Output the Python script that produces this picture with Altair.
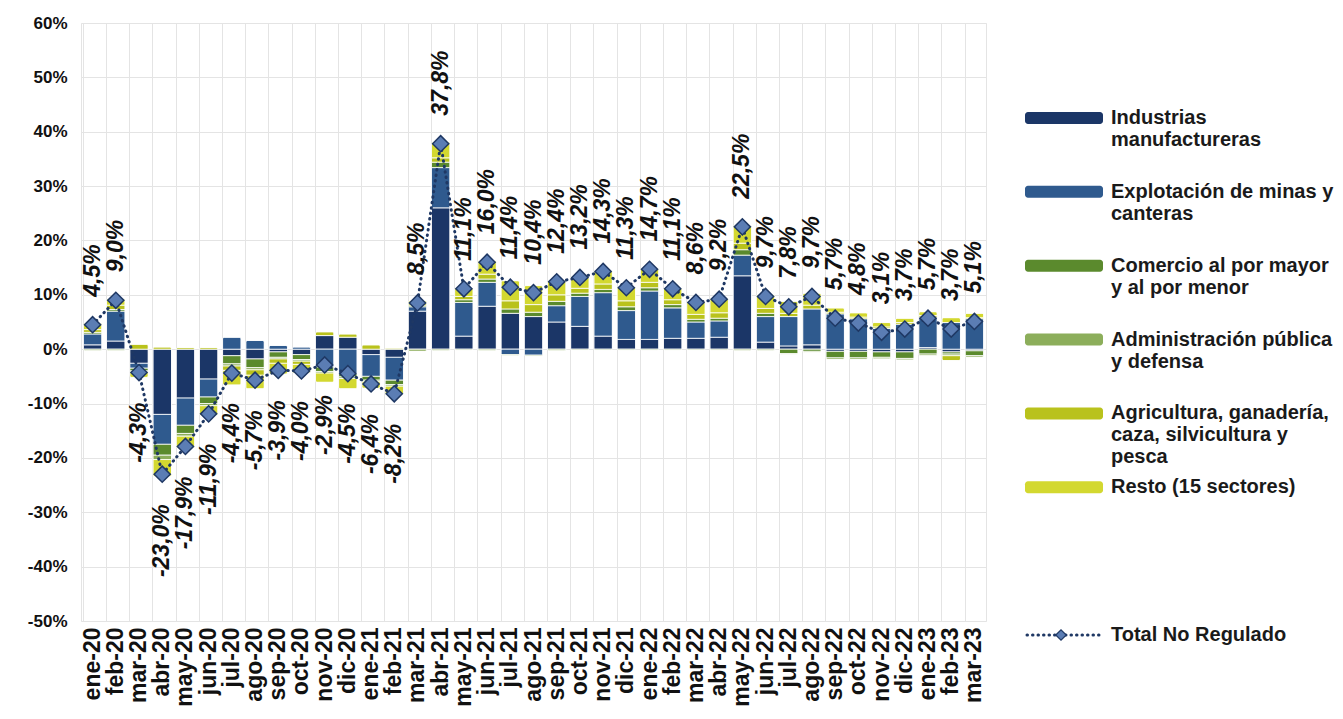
import altair as alt
import pandas as pd

# Months on the horizontal axis
months = [
    "ene-20", "feb-20", "mar-20", "abr-20", "may-20", "jun-20", "jul-20", "ago-20",
    "sep-20", "oct-20", "nov-20", "dic-20", "ene-21", "feb-21", "mar-21", "abr-21",
    "may-21", "jun-21", "jul-21", "ago-21", "sep-21", "oct-21", "nov-21", "dic-21",
    "ene-22", "feb-22", "mar-22", "abr-22", "may-22", "jun-22", "jul-22", "ago-22",
    "sep-22", "oct-22", "nov-22", "dic-22", "ene-23", "feb-23", "mar-23",
]

# Total No Regulado (%)
total = [
    4.5, 9.0, -4.3, -23.0, -17.9, -11.9, -4.4, -5.7, -3.9, -4.0, -2.9, -4.5, -6.4,
    -8.2, 8.5, 37.8, 11.1, 16.0, 11.4, 10.4, 12.4, 13.2, 14.3, 11.3, 14.7, 11.1,
    8.6, 9.2, 22.5, 9.7, 7.8, 9.7, 5.7, 4.8, 3.1, 3.7, 5.7, 3.7, 5.1,
]

# Sector contributions (percentage points)
industrias = [
    0.8, 1.5, -2.6, -12.0, -9.0, -5.5, -1.2, -1.8, -0.5, -1.0, 2.5, 2.2, -1.0,
    -1.5, 7.0, 26.0, 2.4, 7.9, 6.6, 6.0, 5.0, 4.2, 2.4, 1.8, 1.8, 2.0,
    2.0, 2.2, 13.5, 1.3, 0.6, 0.8, -0.4, -0.4, -0.5, -0.5, 0.3, -0.5, -0.3,
]
minas = [
    2.0, 5.5, -0.9, -5.5, -5.0, -3.3, 2.2, 1.6, 0.7, 0.4, -3.3, -4.5, -4.0,
    -4.2, 0.8, 7.4, 6.2, 4.4, -1.0, -1.1, 3.0, 5.5, 8.0, 5.3, 8.9, 5.6,
    3.0, 3.0, 3.8, 4.7, 5.4, 6.6, 6.5, 5.6, 3.8, 4.6, 5.6, 4.9, 5.6,
]
comercio = [
    0.3, 0.3, -0.5, -2.0, -1.5, -1.2, -1.5, -1.6, -1.0, -0.9, -0.8, -0.6, -0.7,
    -0.8, 0.3, 1.0, 0.5, 0.6, 0.8, 0.8, 0.8, 0.6, 0.6, 0.7, 0.6, 0.6,
    0.5, 0.5, 1.0, 0.6, -0.8, -0.4, -1.2, -1.2, -1.0, -1.2, -0.9, -0.4, -0.9,
]
administracion = [
    -0.3, -0.3, -0.2, -0.8, -0.5, -0.4, -0.4, -0.4, -0.3, -0.3, -0.3, -0.3, -0.3,
    -0.3, -0.4, -0.3, -0.2, -0.3, -0.2, -0.2, -0.3, -0.2, -0.2, -0.2, -0.2, -0.2,
    -0.2, -0.2, -0.3, -0.3, -0.2, -0.2, -0.3, -0.3, -0.3, -0.3, -0.3, -0.3, -0.3,
]
agricultura = [
    0.5, 0.8, 0.9, 0.4, 0.3, 0.3, -0.8, -1.0, -0.8, -0.6, 0.7, 0.6, 0.8,
    0.2, 0.3, 0.8, 0.6, 0.9, 1.5, 1.4, 1.2, 0.9, 1.0, 1.1, 1.0, 0.9,
    0.9, 1.0, 1.2, 0.9, 0.6, 0.7, 0.3, 0.3, 0.3, 0.3, 0.3, -0.9, 0.2,
]
resto = [
    1.2, 1.2, -1.0, -3.1, -2.2, -1.8, -2.7, -2.5, -2.0, -1.6, -1.7, -1.9, -1.2,
    -1.6, 0.5, 2.9, 1.6, 2.5, 3.7, 3.5, 2.7, 2.2, 2.5, 2.6, 2.6, 2.2,
    2.4, 2.7, 3.3, 2.5, 2.2, 2.2, 0.8, 0.8, 0.8, 0.8, 0.7, 0.9, 0.8,
]

series_names = [
    "Industrias manufactureras",
    "Explotación de minas y canteras",
    "Comercio al por mayor y al por menor",
    "Administración pública y defensa",
    "Agricultura, ganadería, caza, silvicultura y pesca",
    "Resto (15 sectores)",
]
legend_lines = [
    "Industrias\nmanufactureras",
    "Explotación de minas y\ncanteras",
    "Comercio al por mayor\ny al por menor",
    "Administración pública\ny defensa",
    "Agricultura, ganadería,\ncaza, silvicultura y\npesca",
    "Resto (15 sectores)",
]
series_colors = ["#1b3667", "#2f5a8e", "#5b8a2d", "#8cae5b", "#b9c21c", "#d3d830"]
series_values = [industrias, minas, comercio, administracion, agricultura, resto]

TOTAL_NAME = "Total No Regulado"
LINE_COLOR = "#1f3864"
MARKER_FILL = "#5b7db4"
FONT = "Liberation Sans"

rows = []
for k, (name, vals) in enumerate(zip(series_names, series_values)):
    for m, v in zip(months, vals):
        rows.append({"mes": m, "serie": name, "orden": k, "valor": v})
bars_df = pd.DataFrame(rows)

tot_df = pd.DataFrame({
    "mes": months,
    "total": total,
    "etiqueta": [f"{v:.1f}".replace(".", ",") + "%" for v in total],
})

x_enc = alt.X(
    "mes:N",
    sort=months,
    scale=alt.Scale(paddingInner=0.2, paddingOuter=0.1),
    axis=alt.Axis(
        title=None, labelAngle=-90, labelFontSize=23, labelFontWeight="bold",
        labelColor="#111111", labelPadding=6, ticks=False, domain=False,
        grid=True, bandPosition=0, gridColor="#e4e4e4", labelFont=FONT,
    ),
)
y_scale = alt.Scale(domain=[-50, 60], nice=False, zero=False)
y_axis = alt.Axis(
    title=None, values=list(range(-50, 61, 10)), labelExpr="datum.value + '%'",
    labelFontSize=17, labelFontWeight="bold", labelColor="#111111", labelFont=FONT,
    ticks=False, tickSize=0, domain=False, gridColor="#e4e4e4", labelPadding=14,
    minExtent=75, maxExtent=75,
)

bars = alt.Chart(bars_df).mark_bar(
    cornerRadius=2, stroke="white", strokeWidth=0.8
).encode(
    x=x_enc,
    y=alt.Y("valor:Q", stack="zero", scale=y_scale, axis=y_axis),
    color=alt.Color(
        "serie:N", scale=alt.Scale(domain=series_names, range=series_colors), legend=None
    ),
    order=alt.Order("orden:Q", sort="ascending"),
)

x_plain = alt.X("mes:N", sort=months)
y_plain = alt.Y("total:Q", scale=y_scale)

line = alt.Chart(tot_df).mark_line(
    color=LINE_COLOR, strokeWidth=3, strokeDash=[0.5, 5], strokeCap="round"
).encode(x=x_plain, y=y_plain)

points = alt.Chart(tot_df).mark_point(
    shape="diamond", filled=True, size=260, fill=MARKER_FILL, stroke=LINE_COLOR,
    strokeWidth=1.5, opacity=1,
).encode(x=x_plain, y=y_plain)

label_style = dict(
    angle=270, baseline="middle", font=FONT, fontSize=23, fontWeight="bold",
    fontStyle="italic", color="#111111",
)
labels_pos = alt.Chart(tot_df).transform_filter("datum.total >= 0").mark_text(
    align="left", dx=28, **label_style
).encode(x=x_plain, y=y_plain, text="etiqueta:N")
labels_neg = alt.Chart(tot_df).transform_filter("datum.total < 0").mark_text(
    align="right", dx=-30, **label_style
).encode(x=x_plain, y=y_plain, text="etiqueta:N")

main = alt.layer(bars, line, points, labels_pos, labels_neg).properties(
    width=905, height=598
)

# Legend panel drawn as its own small chart
legend_keys = series_names + [" ", TOTAL_NAME]
legend_df = pd.DataFrame({
    "clave": series_names + [TOTAL_NAME],
    "texto": legend_lines + [TOTAL_NAME],
    "tipo": ["barra"] * len(series_names) + ["linea"],
})
ly = alt.Y(
    "clave:N",
    scale=alt.Scale(type="point", domain=legend_keys, range=[95, 612], padding=0),
    axis=None,
)

swatches = alt.Chart(legend_df).transform_filter("datum.tipo == 'barra'").mark_tick(
    orient="horizontal", size=78, thickness=12, cornerRadius=3, opacity=1
).encode(
    x=alt.value(39), y=ly,
    color=alt.Color("clave:N", scale=alt.Scale(domain=series_names, range=series_colors), legend=None),
)
legend_rule = alt.Chart(legend_df).transform_filter("datum.tipo == 'linea'").mark_rule(
    color=LINE_COLOR, strokeWidth=3, strokeDash=[0.5, 5], strokeCap="round"
).encode(x=alt.value(2), x2=alt.value(74), y=ly)
legend_point = alt.Chart(legend_df).transform_filter("datum.tipo == 'linea'").mark_point(
    shape="diamond", filled=True, size=110, fill=MARKER_FILL, stroke=LINE_COLOR,
    strokeWidth=1.2, opacity=1,
).encode(x=alt.value(36), y=ly)
legend_text = alt.Chart(legend_df).mark_text(
    align="left", baseline="top", dy=-10, lineBreak="\n", lineHeight=22,
    font=FONT, fontSize=20, fontWeight="bold", color="#1a1a1a",
).encode(x=alt.value(86), y=ly, text="texto:N")

legend = alt.layer(swatches, legend_rule, legend_point, legend_text).properties(
    width=316, height=598, view=alt.ViewBackground(stroke="transparent")
)

chart = alt.hconcat(main, legend, spacing=37).properties(
    padding={"left": 5, "top": 13, "right": 0, "bottom": 0}
).configure(font=FONT).configure_view(stroke="#e4e4e4")

chart.save("out.html", embed_options={"renderer": "svg", "actions": False})
